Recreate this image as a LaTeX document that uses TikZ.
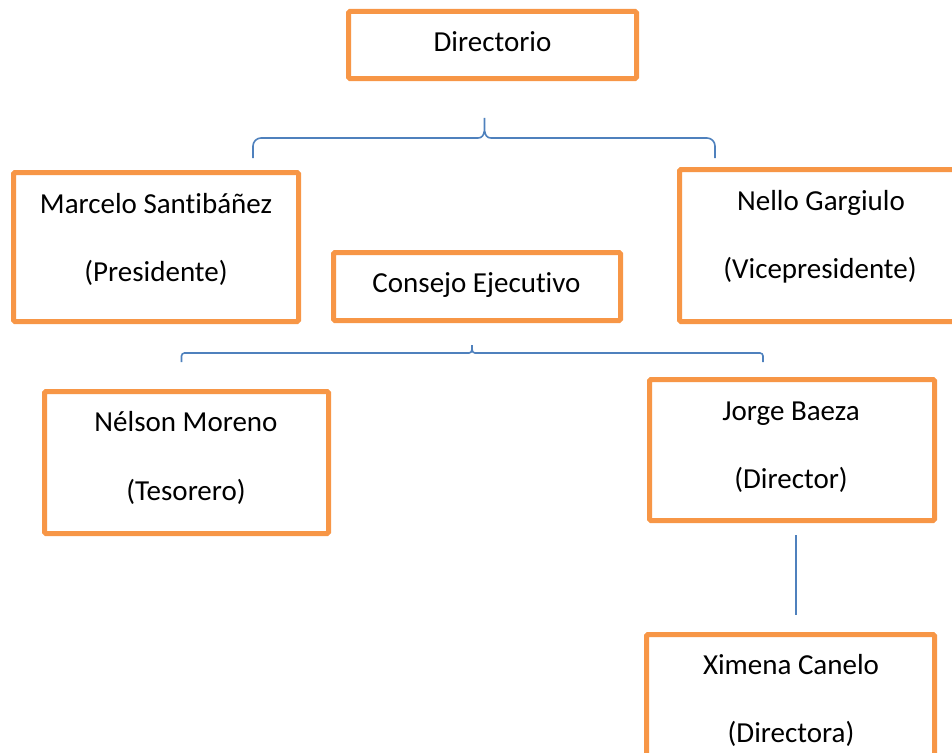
\documentclass[tikz,border=0pt]{standalone}
\usepackage{fontspec}
\setmainfont{Carlito}[Ligatures={NoCommon,NoRequired,NoContextual},RawFeature={-liga;-clig}]
\definecolor{boxorange}{HTML}{F79646}
\definecolor{braceblue}{HTML}{4F81BD}
\begin{document}
\begin{tikzpicture}[x=1pt,y=-1pt,
  box/.style={draw=boxorange, line width=5pt, rounded corners=1.5pt, fill=white},
  txt/.style={anchor=base, inner sep=0pt, font=\fontsize{29}{35}\selectfont},
  brace/.style={draw=braceblue, line width=1.6pt}]
\useasboundingbox (0,0) rectangle (952,752);
% boxes (line centres)
\path[box] (348.5,11.5) rectangle (636.5,78.5);
\node[inner sep=0pt] (dir) at (492.5,45) {};
\path[box] (13.5,172.5) rectangle (298.5,321.5);
\node[inner sep=0pt] (mar) at (156,247) {};
\path[box] (679.5,169.5) rectangle (958,321.5);
\node[inner sep=0pt] (nel) at (815,245.5) {};
\path[box] (333.5,252.5) rectangle (620.5,320.5);
\node[inner sep=0pt] (con) at (477,286.5) {};
\path[box] (44.5,391.5) rectangle (328.5,533.5);
\node[inner sep=0pt] (nes) at (186.5,462.5) {};
\path[box] (649.5,379.5) rectangle (934.5,520.5);
\node[inner sep=0pt] (jor) at (792,450) {};
\path[box] (646.5,634.5) rectangle (934.5,760);
\node[inner sep=0pt] (xim) at (790.5,697) {};
% texts
\node[txt] (t1) at (492.5,52) {Directorio};
\node[txt] (t2) at (156,213) {Marcelo Santibáñez};
\node[txt] (t3) at (156,281) {(Presidente)};
\node[txt] (t4) at (821,210) {Nello Gargiulo};
\node[txt] (t5) at (820,278) {(Vicepresidente)};
\node[txt] (t6) at (476.5,292) {Consejo Ejecutivo};
\node[txt] (t7) at (186,431) {Nélson Moreno};
\node[txt] (t8) at (186,500) {(Tesorero)};
\node[txt] (t9) at (791,420) {Jorge Baeza};
\node[txt] (t10) at (791,488) {(Director)};
\node[txt] (t11) at (791,674) {Ximena Canelo};
\node[txt] (t12) at (791,742) {(Directora)};
% braces
\coordinate (b1l) at (253,158);
\coordinate (b1r) at (715,158);
\coordinate (b1t) at (484.5,118);
\draw[brace] (b1l) -- (253,146) to[out=90,in=180] (261,138) -- (478,138)
  to[out=0,in=-90] (b1t) to[out=-90,in=180] (491,138) -- (707,138)
  to[out=0,in=90] (715,146) -- (b1r);
\coordinate (b2l) at (181.5,362);
\coordinate (b2r) at (763,362);
\coordinate (b2t) at (472,345);
\draw[brace] (b2l) -- (181.5,356) to[out=90,in=180] (184.5,353) -- (469,353)
  to[out=0,in=-90] (b2t) to[out=-90,in=180] (475,353) -- (760,353)
  to[out=0,in=90] (763,356) -- (b2r);
% line Jorge - Ximena
\coordinate (l1) at (796,535);
\coordinate (l2) at (796,615);
\draw[draw=braceblue, line width=1.6pt] (l1) -- (l2);
\end{tikzpicture}
\end{document}
